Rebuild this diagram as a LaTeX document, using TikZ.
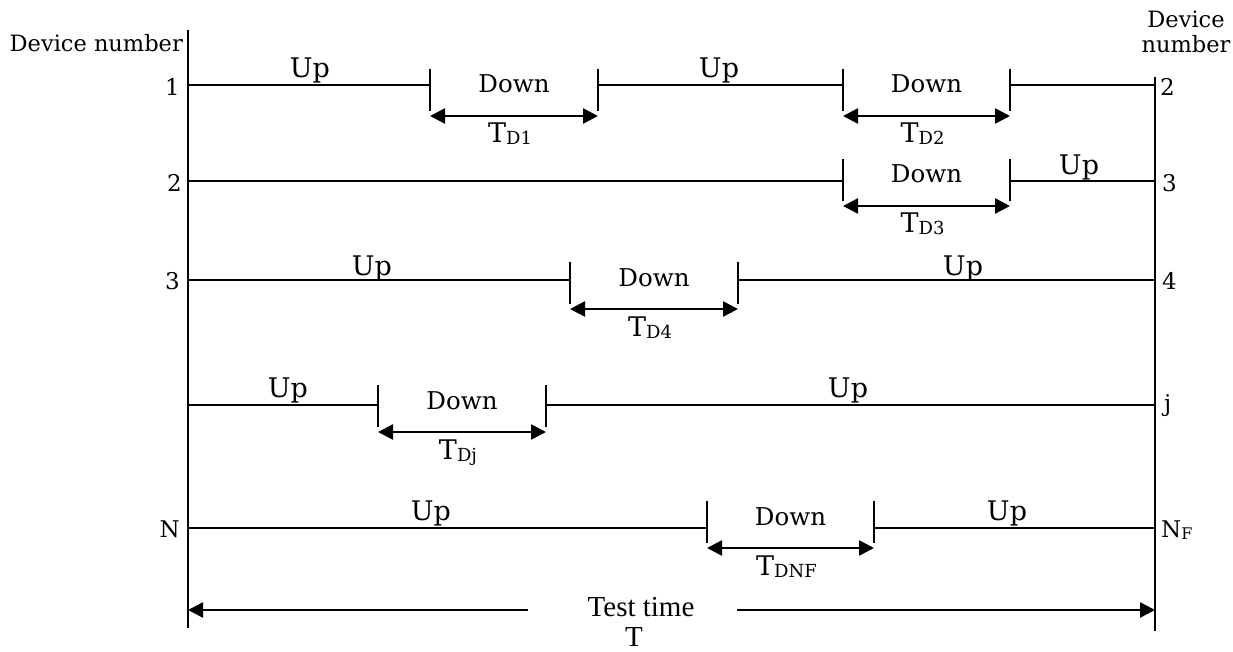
\documentclass[tikz,border=0pt]{standalone}
\usepackage{fontspec}
\setmainfont{DejaVu Serif}
\newfontfamily\timesfont{Liberation Serif}
\usetikzlibrary{arrows.meta}

\tikzset{
  axis/.style={line width=1.5pt},
  seg/.style={line width=2pt},
  tickmark/.style={line width=1.5pt},
  span/.style={line width=2.6pt,{Triangle[length=15pt,width=15pt]}-{Triangle[length=15pt,width=15pt]}},
  halfspan/.style={line width=2.6pt},
  uplbl/.style={anchor=base,inner sep=0pt,font=\fontsize{27}{27}\selectfont},
  downlbl/.style={anchor=base,inner sep=0pt,font=\fontsize{24.5}{24.5}\selectfont},
  tlbl/.style={anchor=base,inner sep=0pt,font=\fontsize{27}{27}\selectfont},
  numlbl/.style={inner sep=0pt,font=\fontsize{23}{23}\selectfont},
  headlbl/.style={inner sep=0pt,font=\fontsize{22.5}{22.5}\selectfont},
}

% one outage interval: line y, arrow y, start x, end x, subscript, name
\newcommand\outage[6]{%
  \coordinate (#6a) at ({#3},{#1});
  \coordinate (#6b) at ({#4},{#1});
  \draw[tickmark] ({#3},{#2-47}) -- ({#3},{#2-5});
  \draw[tickmark] ({#4},{#2-47}) -- ({#4},{#2-5});
  \coordinate (#6l) at ({#3},{#2});
  \coordinate (#6r) at ({#4},{#2});
  \draw[span] (#6l) -- (#6r);
  \node[downlbl] (#6down) at ({(#3+#4)/2},{#2-23}) {Down};
  \node[tlbl] (#6t) at ({(#3+#4)/2-4},{#2+27}) {T\raisebox{-2pt}{\fontsize{18}{18}\selectfont #5}};
}

\begin{document}
\begin{tikzpicture}[x=1pt,y=-1pt]
\useasboundingbox (0,0) rectangle (1233,652);

% time axes
\coordinate (axLtop) at (188,30);
\coordinate (axLbot) at (188,628);
\coordinate (axRtop) at (1155,77);
\coordinate (axRbot) at (1155,631);
\draw[axis] (axLtop) -- (axLbot);
\draw[axis] (axRtop) -- (axRbot);

\node[headlbl,anchor=east] (hdL) at (183,43) {Device number};
\node[headlbl,align=center] (hdR) at (1186,32) {Device\\[2pt]number};

% device 1
\coordinate (r1L) at (188,85);
\coordinate (r1R) at (1155,85);
\outage{85}{116}{430}{598}{D1}{o1}
\outage{85}{116}{843}{1010}{D2}{o2}
\draw[seg] (r1L) -- (o1a);
\draw[seg] (o1b) -- (o2a);
\draw[seg] (o2b) -- (r1R);
\node[uplbl] (u1a) at (310,78) {Up};
\node[uplbl] (u1b) at (719,78) {Up};
\node[numlbl,anchor=east] (n1L) at (180,87) {1};
\node[numlbl,anchor=west] (n1R) at (1160,87) {2};

% device 2
\coordinate (r2L) at (188,181);
\coordinate (r2R) at (1155,181);
\outage{181}{206}{843}{1010}{D3}{o3}
\draw[seg] (r2L) -- (o3a);
\draw[seg] (o3b) -- (r2R);
\node[uplbl] (u2a) at (1079,175) {Up};
\node[numlbl,anchor=east] (n2L) at (182,183) {2};
\node[numlbl,anchor=west] (n2R) at (1162,183) {3};

% device 3
\coordinate (r3L) at (188,280);
\coordinate (r3R) at (1155,280);
\outage{280}{309}{570}{738}{D4}{o4}
\draw[seg] (r3L) -- (o4a);
\draw[seg] (o4b) -- (r3R);
\node[uplbl] (u3a) at (372,276) {Up};
\node[uplbl] (u3b) at (963,276) {Up};
\node[numlbl,anchor=east] (n3L) at (180,281) {3};
\node[numlbl,anchor=west] (n3R) at (1162,281) {4};

% device j
\coordinate (r4L) at (188,405);
\coordinate (r4R) at (1155,405);
\outage{405}{432}{378}{546}{Dj}{o5}
\draw[seg] (r4L) -- (o5a);
\draw[seg] (o5b) -- (r4R);
\node[uplbl] (u4a) at (288,397) {Up};
\node[uplbl] (u4b) at (848,397) {Up};
\node[numlbl,anchor=west] (n4R) at (1164,406) {j};

% device N
\coordinate (r5L) at (188,528);
\coordinate (r5R) at (1155,528);
\outage{528}{548}{707}{874}{DNF}{o6}
\draw[seg] (r5L) -- (o6a);
\draw[seg] (o6b) -- (r5R);
\node[uplbl] (u5a) at (431,520) {Up};
\node[uplbl] (u5b) at (1007,520) {Up};
\node[numlbl,anchor=east] (n5L) at (180,529) {N};
\node[numlbl,anchor=west] (n5R) at (1161,530) {N\raisebox{-2pt}{\fontsize{16}{16}\selectfont F}};

% test time span
\coordinate (ttL) at (188,610);
\coordinate (ttR) at (1155,610);
\coordinate (ttgapL) at (528,610);
\coordinate (ttgapR) at (737,610);
\node[inner sep=0pt,font=\timesfont\fontsize{29}{29}\selectfont] (tt) at (641,607) {Test time};
\node[inner sep=0pt,font=\timesfont\fontsize{29}{29}\selectfont] (ttT) at (634,637) {T};
\draw[halfspan,{Triangle[length=15pt,width=15pt]}-] (ttL) -- (ttgapL);
\draw[halfspan,-{Triangle[length=15pt,width=15pt]}] (ttgapR) -- (ttR);
\end{tikzpicture}
\end{document}
